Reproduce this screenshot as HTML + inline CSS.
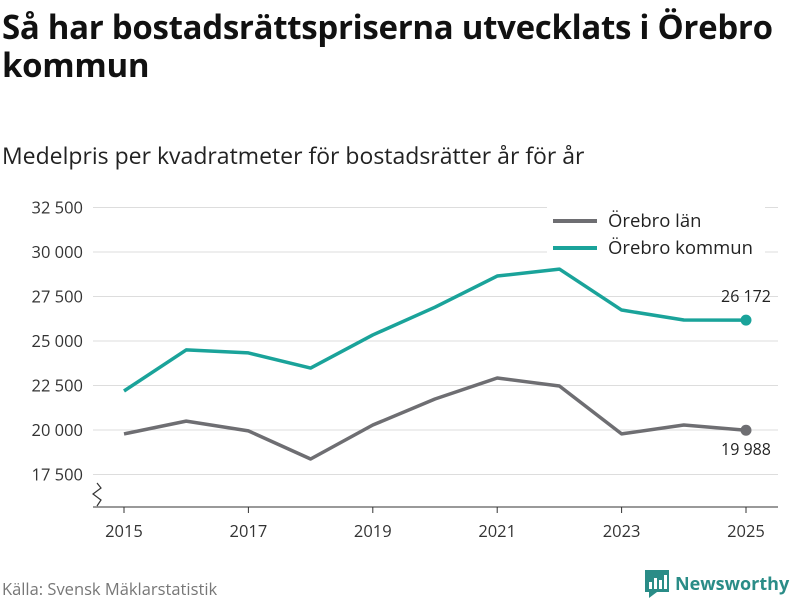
<!DOCTYPE html>
<html><head><meta charset="utf-8"><style>
body{margin:0;width:800px;height:600px;background:#fff;font-family:"Open Sans","Liberation Sans","DejaVu Sans",sans-serif;overflow:hidden;position:relative}
.t{position:absolute;left:2px;top:8px;font-size:33px;font-weight:bold;line-height:38px;color:#111;letter-spacing:-0.3px;white-space:nowrap}
.s{position:absolute;left:2px;top:139px;font-size:23px;color:#222;white-space:nowrap}
.src{position:absolute;left:2px;top:577px;font-size:16.5px;color:#777}
.logo{position:absolute;left:645px;top:570px;font-size:18px;font-weight:bold;color:#2a8c87;display:flex;align-items:center;gap:6px}
</style></head><body>
<div class="t">Så har bostadsrättspriserna utvecklats i Örebro<br>kommun</div>
<div class="s">Medelpris per kvadratmeter för bostadsrätter år för år</div>
<svg id="c" width="800" height="600" style="position:absolute;left:0;top:0"></svg>
<div class="src">Källa: Svensk Mäklarstatistik</div>
<div class="logo"><svg width="24" height="28"><rect x="0" y="0" width="24" height="22" fill="#2a8c87"/><polygon points="4,22 12,22 4,28" fill="#2a8c87"/><rect x="4" y="12" width="3" height="7" fill="#fff"/><rect x="9" y="8" width="3" height="11" fill="#fff"/><rect x="14" y="10" width="3" height="9" fill="#fff"/><rect x="19" y="5" width="3" height="14" fill="#fff"/></svg>Newsworthy</div>
<script>
const years=[2015,2016,2017,2018,2019,2020,2021,2022,2023,2024,2025];
const kommun=[22190,24500,24330,23480,25340,26900,28650,29040,26740,26180,26172];
const lan=[19780,20500,19950,18370,20280,21740,22920,22470,19780,20280,19988];
const yTicks=[17500,20000,22500,25000,27500,30000,32500];
const xTicks=[2015,2017,2019,2021,2023,2025];
const NS="http://www.w3.org/2000/svg";
const svg=document.getElementById('c');
const X=y=>124+(y-2015)*62.2;
const Y=v=>430-(v-20000)/2500*44.5;
function mk(t,a,txt){const e=document.createElementNS(NS,t);for(const k in a)e.setAttribute(k,a[k]);if(txt!=null)e.textContent=txt;svg.appendChild(e);return e;}
const fmt=v=>String(v).replace(/\B(?=(\d{3})+(?!\d))/g,' ');
yTicks.forEach(v=>{
 const l=mk('line',{x1:93,x2:778,y1:Y(v),y2:Y(v),stroke:'#ddd','stroke-width':1});
 
 
 const t=mk('text',{x:83,y:Y(v)+6,'text-anchor':'end','font-size':16.5,fill:'#333'},fmt(v));
 
 
});
const ax=mk('line',{x1:93,x2:778,y1:507,y2:507,stroke:'#333','stroke-width':1});


const br=mk('path',{d:'M97,483 L101,488 L93,494 L101,500 L97,506',fill:'none',stroke:'#333','stroke-width':1.2});


xTicks.forEach(y=>{
 const tk=mk('line',{x1:X(y),x2:X(y),y1:507,y2:513,stroke:'#333'});
 
 
 const t=mk('text',{x:X(y),y:537,'text-anchor':'middle','font-size':16.5,fill:'#333'},y);
 
 
});
function series(vals,col,name){
 const p=mk('polyline',{points:vals.map((v,i)=>X(years[i])+','+Y(v)).join(' '),fill:'none',stroke:col,'stroke-width':3.5,'stroke-linejoin':'round'});
 
 
 const n=vals.length-1;
 const c=mk('circle',{cx:X(years[n]),cy:Y(vals[n]),r:5.5,fill:col});
 
 
}
series(lan,'#6e6e72','lan');
series(kommun,'#1aa39a','kommun');
const k=kommun.length-1;
const lk=mk('text',{x:X(years[k]),y:Y(kommun[k])-18,'text-anchor':'middle','font-size':16,fill:'#222'},fmt(kommun[k]));


const ll=mk('text',{x:X(years[k]),y:Y(lan[k])+25,'text-anchor':'middle','font-size':16,fill:'#222'},fmt(lan[k]));


const bg=mk('rect',{x:547,y:205,width:218,height:62,fill:'#fff'});


[['Örebro län','#6e6e72',221],['Örebro kommun','#1aa39a',248]].forEach(([n,c,y])=>{
 const l=mk('line',{x1:553,x2:597,y1:y,y2:y,stroke:c,'stroke-width':4});
 
 
 const t=mk('text',{x:608,y:y+6,'font-size':18.5,fill:'#222'},n);
 
 
});
</script>
</body></html>
